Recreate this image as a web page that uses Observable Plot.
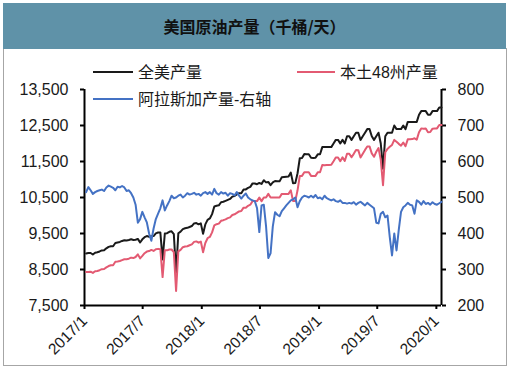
<!DOCTYPE html>
<html><head><meta charset="utf-8">
<script src="https://cdn.jsdelivr.net/npm/d3@7"></script>
<script src="https://cdn.jsdelivr.net/npm/@observablehq/plot@0.6"></script>
<style>
body{margin:0;background:#fff;}
#wrap{position:relative;width:511px;height:372px;overflow:hidden;background:#fff;}
#title{position:absolute;left:3px;top:3px;width:503px;height:46px;background:#5f92a8;color:#111;font:bold 16px "Noto Sans CJK SC",sans-serif;line-height:46px;text-align:center;}
#frame{position:absolute;left:3px;top:48px;width:502px;height:317px;border:1px solid #a6a6a6;border-top:none;}
#chart{position:absolute;left:0;top:50px;}
</style></head>
<body><div id="wrap"><div id="frame"></div><div id="title">美国原油产量（千桶/天）</div><div id="chart"></div></div>
<script>
// weekly observations, first week ending 2017-01-06
const firstWeek = "2017-01-06";
const seriesNames = ["全美产量", "本土48州产量", "阿拉斯加产量-右轴"];
const total = [
8946,8961,8960,8915, 8965,8978,9001,9031, 9032,9088,9129,9147,9147, 9235,9252,9265,9293, 9314,9305,9320,9342,
9318,9327,9350,9250,9338, 9397,9429,9411,9423, 9429,9502,9528,9530, 8781,9500,9510,9547,9561, 9480,8404,9507,9553,
9620,9645,9658,9682, 9707,9780,9789,9754,9782,
9492,9752,9879,9919, 10038,10251,10271,10283, 10369,10381,10407,10433,10460, 10525,10540,10586,10619, 10620,10723,10725,10769,
10795,10892,10890,10870,10904, 10878,10980,10920,10932, 10845,10920,10959,10952,10948, 11062,11070,11078,11085,
11192,10895,10900,11173, 11590,11600,11705,11703,11700, 11605,11600,11607,11698,
11700,11900,11900,11900, 11900,11900,12000,12100, 12100,12000,12100,12000,12200, 12200,12100,12200,12300,
12300,12100,12200,12300,12400, 12400,12200,12100,12200, 12300,12000,11300,12200, 12300,12300,12300,12500,12400,
12400,12400,12500,12400, 12600,12600,12600,12600, 12600,12800,12900,12900,12900, 12800,12800,12900,12900,
12900,13000,13000
];
const lower48 = [
8431,8432,8440,8405, 8450,8460,8481,8509, 8514,8560,8596,8617,8620, 8715,8722,8737,8761, 8786,8787,8800,8830,
8818,8847,8920,8810,8878, 8952,8998,9011,9043, 9015,9062,9073,9060, 8289,9036,9032,9057,9056, 8982,7904,9002,9045,
9120,9140,9146,9174, 9197,9267,9281,9244,9277,
8980,9237,9369,9404, 9530,9727,9759,9775, 9854,9870,9894,9928,9948, 10015,10034,10071,10114, 10123,10218,10214,10269,
10300,10400,10400,10400,10500, 10400,10500,10500,10600, 10500,10500,10500,10500,10500, 10600,10600,10600,10600,
10700,10400,10400,10700, 11100,11100,11200,11200,11200, 11100,11100,11100,11200,
11200,11405,11395,11402, 11405,11408,11505,11610, 11612,11508,11615,11515,11717, 11715,11617,11713,11820,
11815,11612,11717,11822,11915, 11920,11725,11630,11770, 11872,11545,10840,11755, 11850,11910,11961,12100,12047,
11990,11940,12027,11922, 12115,12120,12122,12145, 12108,12312,12420,12410,12418, 12315,12320,12413,12418,
12420,12516,12512
];
const alaska = [
515,529,520,510, 515,518,520,522, 518,528,533,530,527, 520,530,528,532, 528,518,520,512,
500,480,430,440,460, 445,431,400,380, 414,440,455,470, 492,464,478,490,505, 498,500,505,508,
500,505,512,508, 510,513,508,510,505,
512,515,510,515, 508,524,512,508, 515,511,513,505,512, 510,506,515,505, 497,505,511,500,
495,492,490,470,404, 478,480,420,332, 345,420,459,452,448, 462,470,478,485,
492,495,500,473, 490,500,505,503,500, 505,500,507,498,
500,495,505,498, 495,492,495,490, 488,492,485,485,483, 485,483,487,480,
485,488,483,478,485, 480,475,470,430, 428,455,460,445, 450,390,339,400,353,
410,460,473,478, 485,480,478,455, 492,488,480,490,482, 485,480,487,482,
480,484,488
];
const leftTicks = [7500, 8500, 9500, 10500, 11500, 12500, 13500];
const rightTicks = [200, 300, 400, 500, 600, 700, 800];
const xTickDates = ["2017-01-01","2017-07-01","2018-01-01","2018-07-01","2019-01-01","2019-07-01","2020-01-01"];
const xTickLabels = ["2017/1","2017/7","2018/1","2018/7","2019/1","2019/7","2020/1"];
const xDomain = ["2017-01-01", "2020-01-17"];

const colors = ["#1a1a1a", "#e35a72", "#4472c4"];
const parse = d3.utcParse("%Y-%m-%d");
const start = parse(firstWeek);
const dates = total.map((_, i) => d3.utcDay.offset(start, 7 * i));
// right axis (200..800) mapped onto left scale (7500..13500)
const toLeft = v => 7500 + (v - 200) * 10;
const fromLeft = v => (v - 7500) / 10 + 200;

const rows = [];
dates.forEach((d, i) => {
  rows.push({date: d, value: total[i], s: 0});
  rows.push({date: d, value: lower48[i], s: 1});
  rows.push({date: d, value: toLeft(alaska[i]), s: 2});
});
const xd = xDomain.map(parse);
const xt = xTickDates.map(parse);
const labelOf = new Map(xt.map((d, i) => [+d, xTickLabels[i]]));

const chart = Plot.plot({
  width: 511, height: 316,
  marginTop: 39, marginBottom: 61, marginLeft: 84, marginRight: 70,
  style: {fontFamily: "'Liberation Sans', Arial, sans-serif", fontSize: "16px", color: "#1a1a1a", background: "transparent", overflow: "visible"},
  x: {type: "utc", domain: xd},
  y: {domain: [7500, 13500]},
  marks: [
    Plot.axisY({ticks: leftTicks, tickFormat: d3.format(","), tickSize: 4, tickPadding: 12, label: null, fontSize: 16, stroke: "#000", strokeWidth: 2}),
    Plot.axisY({anchor: "right", ticks: rightTicks.map(toLeft), tickFormat: d => String(Math.round(fromLeft(d))), tickSize: 4, tickPadding: 12, label: null, fontSize: 16, stroke: "#000", strokeWidth: 2}),
    Plot.axisX({ticks: xt, tickFormat: d => labelOf.get(+d), tickRotate: -45, tickSize: 4, tickPadding: 9, label: null, fontSize: 15.5, stroke: "#000", strokeWidth: 2}),
    Plot.ruleX([xd[0], xd[1]], {stroke: "#000", strokeWidth: 2}),
    Plot.ruleY([7500], {stroke: "#000", strokeWidth: 2}),
    Plot.lineY(rows.filter(r => r.s === 0), {x: "date", y: "value", stroke: colors[0], strokeWidth: 2}),
    Plot.lineY(rows.filter(r => r.s === 1), {x: "date", y: "value", stroke: colors[1], strokeWidth: 2}),
    Plot.lineY(rows.filter(r => r.s === 2), {x: "date", y: "value", stroke: colors[2], strokeWidth: 2})
  ]
});

// legend
const svg = d3.select(chart);
const legend = [
  {x: 93, y: 22, w: 40, i: 0},
  {x: 297, y: 22, w: 38, i: 1},
  {x: 93, y: 49, w: 40, i: 2}
];
const g = svg.append("g").attr("text-anchor", "start");
legend.forEach(l => {
  g.append("line").attr("x1", l.x).attr("x2", l.x + l.w).attr("y1", l.y).attr("y2", l.y)
    .attr("stroke", colors[l.i]).attr("stroke-width", 2);
  g.append("text").attr("x", l.x + l.w + 5).attr("y", l.y).attr("dy", "0.36em")
    .attr("text-anchor", "start")
    .attr("fill", "#1a1a1a").style("font-family", "'Liberation Sans', 'Noto Sans CJK SC', sans-serif")
    .style("font-size", "16px").text(seriesNames[l.i]);
});
document.getElementById("chart").appendChild(chart);
</script></body></html>
